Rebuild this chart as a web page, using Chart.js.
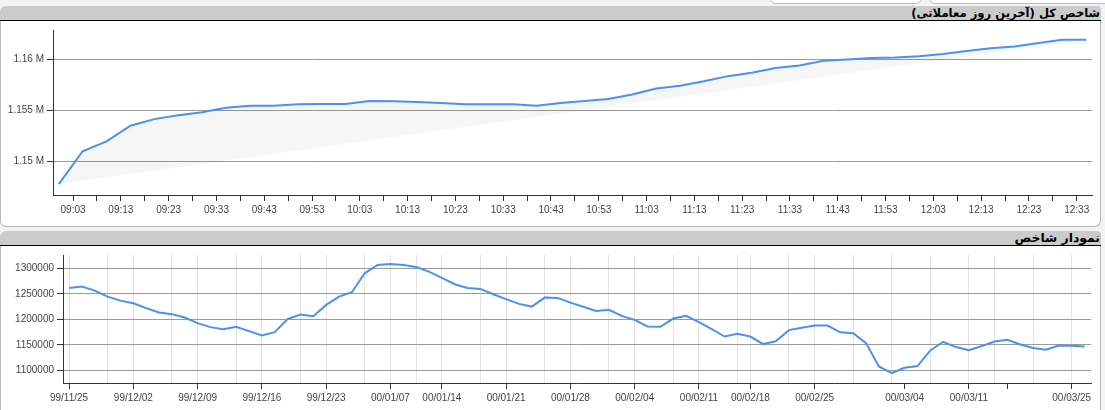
<!DOCTYPE html>
<html>
<head>
<meta charset="utf-8">
<script src="https://cdn.jsdelivr.net/npm/chart.js@4.4.0/dist/chart.umd.min.js"></script>
<style>
  html, body { margin: 0; padding: 0; }
  body { width: 1105px; height: 410px; background: #f3f3f3; position: relative; overflow: hidden; }
  .topbox { position: absolute; top: -10px; height: 12px; background: #fff; border: 1px solid #bdbdbd; border-radius: 6px; }
  .card { position: absolute; left: 0; width: 1101px; }
  .hdr {
    position: absolute; left: 0; top: 0; width: 1101px; height: 14px;
    background: #cbcbcb; border-bottom: 1px solid #000;
    border-radius: 6px 4px 0 0;
    direction: rtl; text-align: right;
    font: bold 11.6px 'DejaVu Sans', sans-serif; line-height: 14px; color: #000;
    white-space: nowrap;
  }
  .hdr span { padding-right: 1px; }
  .body {
    position: absolute; left: 0; top: 15px; width: 1099px; background: #fff;
    border: 1px solid #b8b8b8; border-top: none; border-radius: 0 0 6px 6px;
  }
  canvas { position: absolute; left: 0; top: 0; }
</style>
</head>
<body>
<div class="topbox" style="left:770px;width:150px"></div>
<div class="topbox" style="left:929px;width:190px"></div>

<div class="card" style="top:6px;height:221px">
  <div class="hdr"><span>شاخص کل (آخرین روز معاملاتی)</span></div>
  <div class="body" style="height:205px">
    <canvas id="topChart" width="1098" height="205"></canvas>
  </div>
</div>

<div class="card" style="top:231px;height:200px">
  <div class="hdr"><span style="font-size:12.4px">نمودار شاخص</span></div>
  <div class="body" style="height:190px">
    <canvas id="histChart" width="1098" height="164"></canvas>
  </div>
</div>

<script>
// last trading day, index every 5 minutes
const topTimes = ['09:00','09:05','09:10','09:15','09:20','09:25','09:30','09:35','09:40','09:45',
  '09:50','09:55','10:00','10:05','10:10','10:15','10:20','10:25','10:30','10:35',
  '10:40','10:45','10:50','10:55','11:00','11:05','11:10','11:15','11:20','11:25',
  '11:30','11:35','11:40','11:45','11:50','11:55','12:00','12:05','12:10','12:15',
  '12:20','12:25','12:30','12:35'];
const topValues = [1147770, 1151000, 1151970, 1153500, 1154150, 1154530, 1154820, 1155270, 1155470, 1155470,
  1155600, 1155630, 1155630, 1155920, 1155900, 1155830, 1155730, 1155600, 1155600, 1155600,
  1155470, 1155730, 1155920, 1156120, 1156570, 1157160, 1157420, 1157860, 1158370, 1158710,
  1159160, 1159420, 1159870, 1160000, 1160160, 1160190, 1160320, 1160550, 1160840, 1161100,
  1161290, 1161620, 1161940, 1161940];
const topTickLabels = ['09:03','09:13','09:23','09:33','09:43','09:53','10:03','10:13','10:23','10:33',
  '10:43','10:53','11:03','11:13','11:23','11:33','11:43','11:53','12:03','12:13','12:23','12:33'];
const topYTicks = [1150000, 1155000, 1160000];

// index history, one value per trading day
const histValues = [1261500, 1264100, 1256300, 1244500, 1236700, 1231600, 1221900, 1213300, 1210200, 1203500,
  1192600, 1184800, 1180900, 1185400, 1177000, 1168400, 1175000, 1200400, 1209400, 1206200,
  1228300, 1244500, 1253100, 1290200, 1306400, 1308400, 1306400, 1302500, 1293400, 1281100,
  1268700, 1261500, 1259600, 1249200, 1239500, 1230300, 1225000, 1242600, 1242000, 1232800,
  1224800, 1216600, 1218600, 1206800, 1199000, 1186000, 1185400, 1201600, 1206800, 1194500,
  1180900, 1166400, 1171700, 1166400, 1151600, 1157400, 1178900, 1183400, 1187900, 1187900,
  1174600, 1173000, 1153500, 1107800, 1094900, 1105300, 1108600, 1139100, 1156100, 1145700,
  1139800, 1147700, 1156600, 1160000, 1150800, 1143800, 1140400, 1148800, 1148200, 1146900];
const histTickIdx = [0, 5, 10, 15, 20, 25, 29, 34, 39, 44, 49, 53, 58, 65, 70, 73, 78];
const histTickLabels = ['99/11/25','99/12/02','99/12/09','99/12/16','99/12/23','00/01/07','00/01/14',
  '00/01/21','00/01/28','00/02/04','00/02/11','00/02/18','00/02/25','00/03/04','00/03/11','','00/03/25'];
const histGridIdx = [0, 3, 5, 8, 10, 13, 15, 18, 20, 23, 25, 27, 29, 32, 34, 37, 39, 42, 44, 47,
  49, 52, 53, 56, 58, 61, 64, 67, 70, 72, 75, 78];
const histYTicks = [1100000, 1150000, 1200000, 1250000, 1300000];

const LINE_BLUE = '#4d8ff2';
const AXIS = '#333';
const LABEL = '#444';

Chart.defaults.font.family = "'Liberation Sans', Arial, sans-serif";
Chart.defaults.font.size = 10;
Chart.defaults.color = LABEL;

function toMinutes(t) {
  const [h, m] = t.split(':').map(Number);
  return (h - 9) * 60 + m;
}

// light shade between the line and the chord from first to last point
const chordShade = {
  id: 'chordShade',
  beforeDatasetsDraw(chart) {
    const pts = chart.getDatasetMeta(0).data;
    const ctx = chart.ctx;
    ctx.save();
    ctx.beginPath();
    pts.forEach((p, i) => i ? ctx.lineTo(p.x, p.y) : ctx.moveTo(p.x, p.y));
    ctx.closePath();
    ctx.fillStyle = 'rgba(0,0,0,0.035)';
    ctx.fill();
    ctx.restore();
  }
};

const topLabelAt = {};
topTickLabels.forEach(l => { topLabelAt[toMinutes(l)] = l; });

new Chart(document.getElementById('topChart'), {
  type: 'line',
  data: {
    datasets: [{
      data: topTimes.map((t, i) => ({ x: toMinutes(t), y: topValues[i] })),
      borderColor: LINE_BLUE,
      borderWidth: 2,
      pointRadius: 0,
      tension: 0,
      fill: false
    }]
  },
  options: {
    responsive: false,
    animation: false,
    layout: { padding: { top: 7, right: 7, left: 0, bottom: 0 } },
    plugins: { legend: { display: false }, tooltip: { enabled: false } },
    scales: {
      x: {
        type: 'linear',
        min: -1.2,
        max: 216.2,
        afterBuildTicks: s => {
          const ticks = [];
          topTickLabels.forEach((l, i) => {
            const m = toMinutes(l);
            ticks.push({ value: m });
            if (i < topTickLabels.length - 1) ticks.push({ value: m + 5 });
          });
          s.ticks = ticks;
        },
        afterFit: s => { s.height = 31; },
        grid: { drawOnChartArea: false, tickLength: 6, tickColor: AXIS },
        border: { color: AXIS },
        ticks: {
          autoSkip: false, maxRotation: 0, padding: 3,
          callback: v => topLabelAt[v] || ''
        }
      },
      y: {
        min: 1146700,
        max: 1162900,
        afterBuildTicks: s => { s.ticks = topYTicks.map(v => ({ value: v })); },
        afterFit: s => { s.width = 52; },
        grid: { color: '#9a9a9a', tickLength: 6, tickColor: AXIS },
        border: { color: AXIS },
        ticks: { padding: 3, callback: v => (v / 1e6) + ' M' }
      }
    }
  },
  plugins: [chordShade]
});

const histLabelAt = {};
histTickIdx.forEach((v, i) => { histLabelAt[v] = histTickLabels[i]; });
const histTickSet = new Set(histTickIdx);
const histGridSet = new Set(histGridIdx);

new Chart(document.getElementById('histChart'), {
  type: 'line',
  data: {
    datasets: [{
      data: histValues.map((v, i) => ({ x: i, y: v })),
      borderColor: LINE_BLUE,
      borderWidth: 2,
      pointRadius: 0,
      tension: 0,
      fill: false
    }]
  },
  options: {
    responsive: false,
    animation: false,
    layout: { padding: { top: 9, right: 8, left: 0, bottom: 0 } },
    plugins: { legend: { display: false }, tooltip: { enabled: false } },
    scales: {
      x: {
        type: 'linear',
        min: -0.47,
        max: 79.5,
        afterBuildTicks: s => {
          const all = [...new Set([...histTickIdx, ...histGridIdx])].sort((a, b) => a - b);
          s.ticks = all.map(v => ({ value: v }));
        },
        afterFit: s => { s.height = 27; },
        grid: {
          color: c => histGridSet.has(c.tick && c.tick.value) ? '#e4e4e4' : 'rgba(0,0,0,0)',
          tickColor: c => histTickSet.has(c.tick && c.tick.value) ? AXIS : 'rgba(0,0,0,0)',
          tickLength: 6
        },
        border: { color: AXIS },
        ticks: {
          autoSkip: false, maxRotation: 0, padding: 3,
          callback: v => histLabelAt[v] || ''
        }
      },
      y: {
        min: 1075400,
        max: 1326000,
        afterBuildTicks: s => { s.ticks = histYTicks.map(v => ({ value: v })); },
        afterFit: s => { s.width = 62; },
        grid: { color: '#9a9a9a', tickLength: 6, tickColor: AXIS },
        border: { color: AXIS },
        ticks: { padding: 3, callback: v => String(v) }
      }
    }
  }
});
</script>
</body>
</html>
